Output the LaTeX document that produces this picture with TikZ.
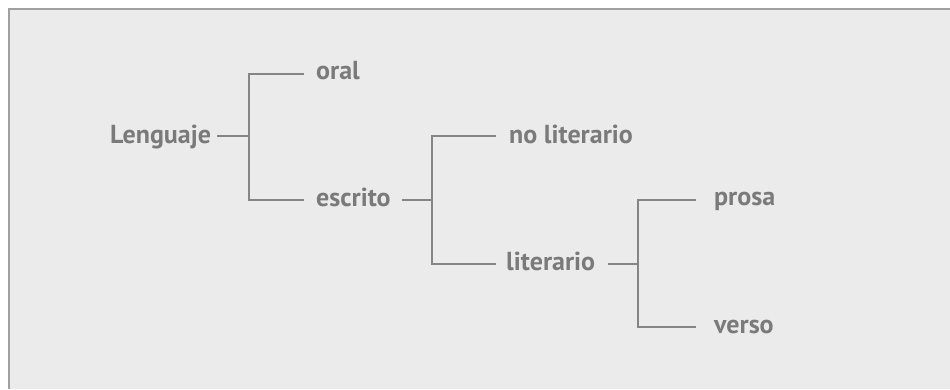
\documentclass[tikz,border=0pt]{standalone}
\usepackage{fontspec}
\setsansfont{PT Sans}
\definecolor{bgc}{HTML}{EBEBEB}
\definecolor{txt}{HTML}{7A7A7A}
\definecolor{ln}{HTML}{858585}
\definecolor{frame}{HTML}{A0A0A0}
\begin{document}
\begin{tikzpicture}[x=1pt,y=-1pt,
  lbl/.style={anchor=base west,inner sep=0pt,text=txt,font=\sffamily\bfseries\fontsize{26}{30}\selectfont},
  conn/.style={draw=ln,line width=1.8pt}]
\useasboundingbox (0,0) rectangle (950,389);
\fill[white] (0,0) rectangle (950,389);
\fill[bgc] (9,9) rectangle (950,389);
\draw[frame,line width=1.6pt] (9,389) -- (9,9) -- (950,9);
% labels
\node[lbl] (L) at (110,143) {Lenguaje};
\node[lbl] (oral) at (316,79) {oral};
\node[lbl] (esc) at (316,206) {escrito};
\node[lbl] (nolit) at (509,143) {no literario};
\node[lbl] (lit) at (506,270) {literario};
\node[lbl] (pro) at (714,205) {prosa};
\node[lbl] (ver) at (714,333) {verso};
% bracket coordinates
\coordinate (a0) at (217,136);
\coordinate (a1) at (249,136);
\coordinate (a2) at (304,74);
\coordinate (a3) at (304,200);
\coordinate (b0) at (402,200);
\coordinate (b1) at (432,200);
\coordinate (b2) at (496,136);
\coordinate (b3) at (496,264);
\coordinate (c0) at (608,264);
\coordinate (c1) at (638,264);
\coordinate (c2) at (696,200);
\coordinate (c3) at (696,327);
% connectors
\draw[conn] (a0) -- (a1);
\draw[conn] (a2) -| (a1) |- (a3);
\draw[conn] (b0) -- (b1);
\draw[conn] (b2) -| (b1) |- (b3);
\draw[conn] (c0) -- (c1);
\draw[conn] (c2) -| (c1) |- (c3);
\end{tikzpicture}
\end{document}
